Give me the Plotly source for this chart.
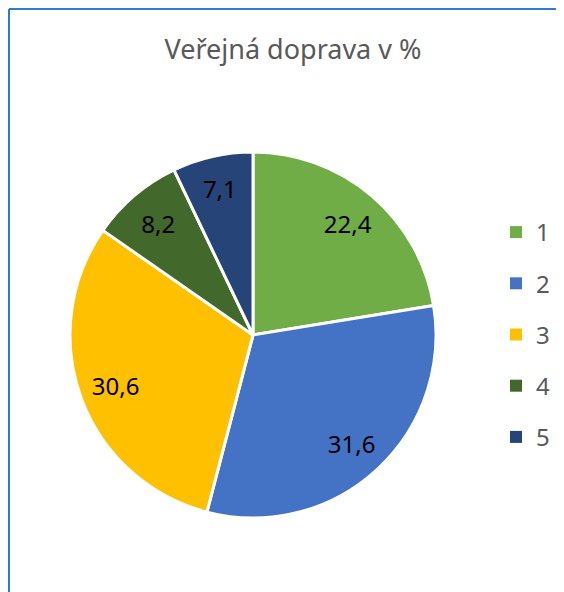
import plotly.graph_objects as go

categories = ["1", "2", "3", "4", "5"]
values = [22.4, 31.6, 30.6, 8.2, 7.1]
value_labels = ["22,4", "31,6", "30,6", "8,2", "7,1"]
colors = ["#70AD47", "#4472C4", "#FFC000", "#43682B", "#264478"]

# figure sits at an 8px page offset (default body margin)
W, H = 556, 584
cx, cy, R = 245, 327, 183  # pie centre / radius in figure pixels
pie_domain = dict(x=[(cx - R) / W, (cx + R) / W],
                  y=[(H - (cy + R)) / H, (H - (cy - R)) / H])

fig = go.Figure()

# coloured slices
fig.add_trace(go.Pie(
    labels=categories,
    values=values,
    textinfo="none",
    marker=dict(colors=colors, line=dict(color="#FFFFFF", width=3)),
    sort=False,
    direction="clockwise",
    rotation=0,
    showlegend=False,
    hoverinfo="label+value",
    domain=pie_domain,
))

# data labels placed in the outer ring of each slice
fig.add_trace(go.Pie(
    labels=categories,
    values=values,
    text=value_labels,
    texttemplate="%{text}",
    textinfo="text",
    textposition="inside",
    insidetextorientation="horizontal",
    textfont=dict(family="Noto Sans", size=24, color="#000000"),
    marker=dict(colors=["rgba(0,0,0,0)"] * len(values),
                line=dict(width=0)),
    hole=0.6,
    sort=False,
    direction="clockwise",
    rotation=0,
    showlegend=False,
    hoverinfo="skip",
    domain=pie_domain,
))

# legend entries
for c, col in zip(categories, colors):
    fig.add_trace(go.Scatter(
        x=[None], y=[None], mode="markers", name=c,
        marker=dict(symbol="square", size=12, color=col),
        legendgroup=c, showlegend=True, hoverinfo="skip",
    ))

fig.update_xaxes(visible=False)
fig.update_yaxes(visible=False)

fig.update_layout(
    width=W, height=H,
    margin=dict(l=0, r=0, t=0, b=0),
    paper_bgcolor="#FFFFFF",
    plot_bgcolor="rgba(0,0,0,0)",
    title=dict(text="Veřejná doprava v %", x=285 / W, xanchor="center",
               y=1 - 42 / H, yanchor="middle",
               font=dict(family="Noto Sans", size=27, color="#595959")),
    legend=dict(x=488 / W, xanchor="left", y=1 - 202 / H, yanchor="top",
                font=dict(family="Noto Sans", size=24, color="#595959"),
                tracegroupgap=17, itemwidth=30, bgcolor="rgba(0,0,0,0)"),
    shapes=[
        dict(type="line", xref="paper", yref="paper",
             x0=1 / W, x1=1.05, y0=1 - 1 / H, y1=1 - 1 / H,
             line=dict(color="#2E7BCF", width=2)),
        dict(type="line", xref="paper", yref="paper",
             x0=1 / W, x1=1 / W, y0=1 - 1 / H, y1=-0.05,
             line=dict(color="#2E7BCF", width=2)),
    ],
)

fig.write_html("out.html")
